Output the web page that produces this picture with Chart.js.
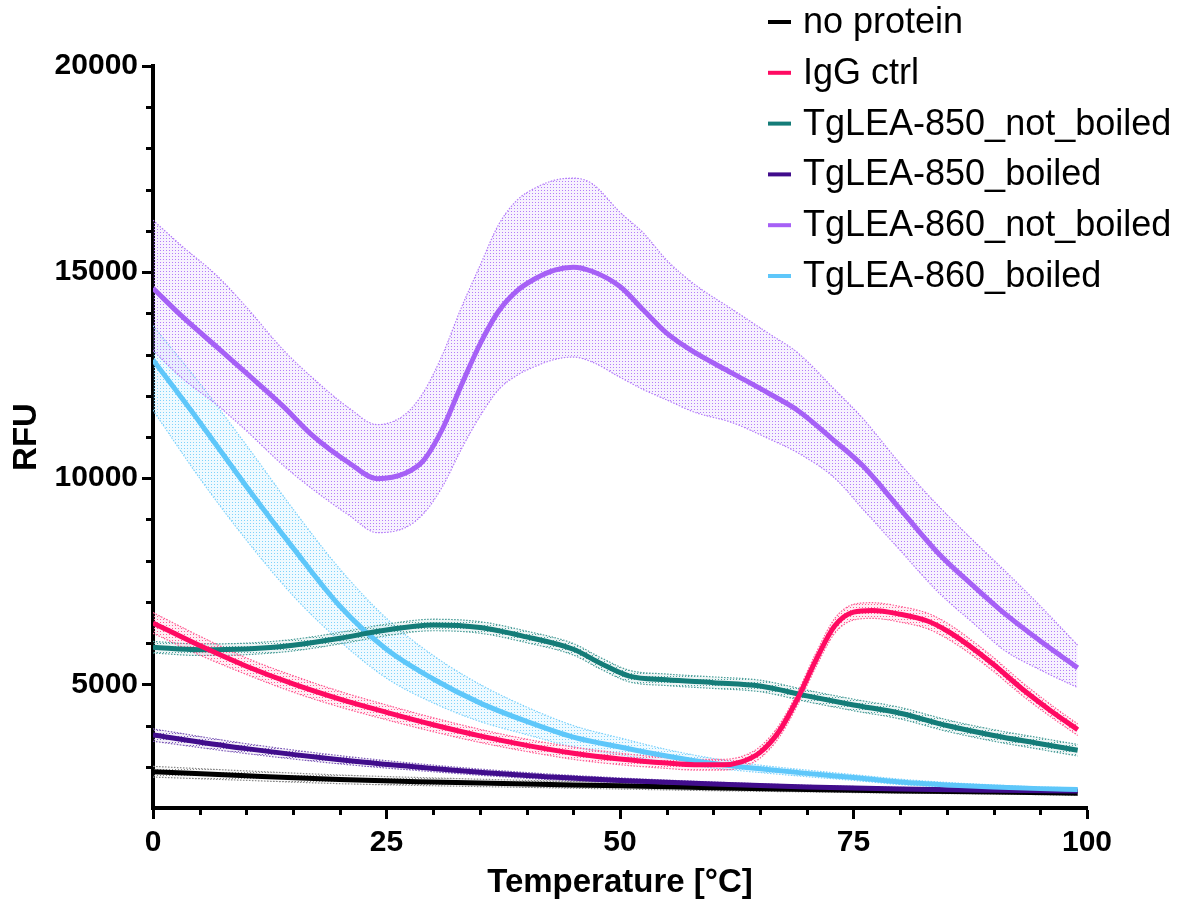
<!DOCTYPE html>
<html><head><meta charset="utf-8">
<script src="https://cdn.jsdelivr.net/npm/chart.js@4/dist/chart.umd.min.js"></script>
<style>html,body{margin:0;padding:0;background:#fff;}#wrap{width:1187px;height:911px;position:relative;}</style>
</head><body><div id="wrap"><canvas id="c" width="1187" height="911"></canvas></div>
<script>
// ---- data ----
const xTicks = [0, 25, 50, 75, 100];
const yTicks = [5000, 10000, 15000, 20000];

const tempNoProtein = [0,10,20,30,40,50,60,70,80,90,99];
const noProtein   = [2880,2780,2690,2630,2580,2540,2490,2450,2410,2390,2360];
const noProteinHi = [3010,2900,2800,2730,2670,2620,2570,2520,2480,2450,2420];
const noProteinLo = [2750,2670,2590,2540,2500,2460,2420,2390,2360,2340,2310];

const tempIgG = [0,5,10,15,20,25,30,35,40,45,50,55,58,61,63,65,67,69,71,73,75,77,80,83,85,87,90,93,96,99];
const igg   = [6490,5940,5440,5010,4640,4320,4020,3750,3520,3330,3190,3090,3050,3050,3120,3350,3850,4650,5600,6420,6750,6790,6700,6530,6300,6000,5480,4900,4380,3900];
const iggHi = [6740,6170,5640,5210,4830,4500,4190,3910,3670,3480,3330,3220,3180,3180,3250,3490,4000,4810,5770,6600,6940,6980,6890,6720,6490,6180,5650,5060,4530,4040];
const iggLo = [6240,5710,5240,4810,4450,4140,3850,3590,3370,3180,3050,2960,2920,2920,2990,3210,3700,4490,5430,6240,6560,6600,6510,6340,6110,5820,5310,4740,4230,3760];

const temp850nb = [0,5,10,15,20,25,30,35,40,45,48,51,55,60,65,70,75,80,85,90,95,99];
const lea850nb   = [5900,5840,5860,5950,6120,6320,6440,6380,6150,5850,5500,5200,5110,5040,4960,4720,4500,4300,4000,3760,3560,3400];
const lea850nbHi = [6040,5980,6000,6090,6260,6460,6580,6520,6290,5990,5640,5340,5250,5180,5100,4860,4640,4440,4140,3900,3700,3540];
const lea850nbLo = [5760,5700,5720,5810,5980,6180,6300,6240,6010,5710,5360,5060,4970,4900,4820,4580,4360,4160,3860,3620,3420,3260];

const temp850b = [0,10,20,30,40,50,60,70,80,90,99];
const lea850b   = [3770,3440,3170,2960,2790,2670,2580,2510,2460,2430,2410];
const lea850bHi = [3920,3560,3270,3040,2860,2730,2630,2550,2500,2460,2440];
const lea850bLo = [3620,3320,3070,2880,2720,2610,2530,2470,2420,2400,2380];

const temp860nb = [0,3,7,10,14,17,21,24,27,29,31,33,35,37,39,41,43,45,47,50,52.5,55,58,62,66,69,73,76,80,84,88,91,95,99];
const lea860nb   = [14610,13950,13150,12550,11730,11050,10370,9990,10120,10440,11200,12250,13250,14050,14550,14850,15050,15120,15020,14650,14080,13520,13050,12550,12050,11650,10900,10300,9250,8200,7350,6750,6050,5400];
const lea860nbHi = [16260,15650,14880,14150,13100,12450,11700,11300,11550,12100,13000,14130,15150,16150,16750,17050,17230,17280,17150,16450,15950,15290,14700,14100,13500,13050,12150,11450,10350,9350,8450,7800,6900,5950];
const lea860nbLo = [13100,12450,11750,11150,10300,9750,9100,8680,8800,9150,9800,10700,11500,12150,12500,12720,12880,12940,12820,12450,12150,11900,11600,11350,10950,10620,10000,9250,8250,7250,6450,5850,5350,4920];

const temp860b = [0,5,10,15,20,25,30,35,40,45,50,55,60,65,70,75,80,85,90,95,99];
const lea860b   = [12870,11360,9800,8310,6900,5850,5130,4550,4100,3720,3480,3260,3080,2950,2840,2740,2630,2560,2510,2470,2450];
const lea860bHi = [13700,12300,10800,9250,7800,6600,5700,5000,4450,4000,3700,3420,3200,3040,2920,2810,2700,2620,2560,2510,2490];
const lea860bLo = [11650,10000,8500,7150,6050,5150,4550,4100,3780,3480,3290,3110,2970,2860,2760,2670,2570,2510,2460,2430,2410];

const seriesLabels = ['no protein','IgG ctrl','TgLEA-850_not_boiled','TgLEA-850_boiled','TgLEA-860_not_boiled','TgLEA-860_boiled'];

// ---- styling ----
const series = [
  {label: seriesLabels[0], color:'#000000', dot:'#8a8a8a', tint:'rgba(140,140,140,0.06)', x:tempNoProtein, y:noProtein, hi:noProteinHi, lo:noProteinLo, z:5},
  {label: seriesLabels[1], color:'#FF0A62', dot:'#FF5C93', tint:'rgba(255,92,147,0.10)', x:tempIgG, y:igg, hi:iggHi, lo:iggLo, z:0},
  {label: seriesLabels[2], color:'#147C78', dot:'#4E9F9B', tint:'rgba(78,159,155,0.10)', x:temp850nb, y:lea850nb, hi:lea850nbHi, lo:lea850nbLo, z:1},
  {label: seriesLabels[3], color:'#410D8C', dot:'#7E5CB8', tint:'rgba(126,92,184,0.10)', x:temp850b, y:lea850b, hi:lea850bHi, lo:lea850bLo, z:4},
  {label: seriesLabels[4], color:'#A660F6', dot:'#B47CF9', tint:'rgba(180,124,249,0.10)', x:temp860nb, y:lea860nb, hi:lea860nbHi, lo:lea860nbLo, z:3},
  {label: seriesLabels[5], color:'#5EC7FA', dot:'#7FD2FB', tint:'rgba(127,210,251,0.12)', x:temp860b, y:lea860b, hi:lea860bHi, lo:lea860bLo, z:2}
];

function dotPattern(color, tint){
  const c = document.createElement('canvas'); c.width = 3; c.height = 3;
  const g = c.getContext('2d');
  g.fillStyle = tint; g.fillRect(0,0,3,3);
  g.fillStyle = color; g.fillRect(1,1,1,1);
  return document.getElementById('c').getContext('2d').createPattern(c,'repeat');
}
function pts(xs, ys){ return xs.map((x,i)=>({x:x, y:ys[i]})); }

const datasets = [];
series.forEach(s=>{
  datasets.push({label:s.label+' upper', data:pts(s.x,s.hi), borderColor:s.dot, borderWidth:1.2, borderDash:[1.5,1.5], pointRadius:0, fill:false, order:20, cubicInterpolationMode:'monotone'});
  datasets.push({label:s.label+' lower', data:pts(s.x,s.lo), borderColor:s.dot, borderWidth:1.2, borderDash:[1.5,1.5], pointRadius:0, fill:'-1', backgroundColor:dotPattern(s.dot, s.tint), order:20, cubicInterpolationMode:'monotone'});
});
series.forEach(s=>{
  datasets.push({label:s.label, isMain:true, data:pts(s.x,s.y), borderColor:s.color, borderWidth:5, pointRadius:0, fill:false, order:s.z, cubicInterpolationMode:'monotone', borderCapStyle:'butt'});
});

const minorTicks = {
  id:'minorTicks',
  afterDraw(chart){
    const ctx = chart.ctx, xs = chart.scales.x, ys = chart.scales.y, a = chart.chartArea;
    ctx.save(); ctx.strokeStyle='#000'; ctx.lineWidth=3;
    for(let v=3000; v<20000; v+=1000){ if(v%5000===0) continue;
      const p = Math.round(ys.getPixelForValue(v))+0.5;
      ctx.beginPath(); ctx.moveTo(a.left-7,p); ctx.lineTo(a.left,p); ctx.stroke(); }
    for(let v=5; v<100; v+=5){ if(v%25===0) continue;
      const p = Math.round(xs.getPixelForValue(v))+0.5;
      ctx.beginPath(); ctx.moveTo(p,a.bottom); ctx.lineTo(p,a.bottom+7); ctx.stroke(); }
    ctx.restore();
  }
};
const sideLegend = {
  id:'sideLegend',
  afterDraw(chart){
    const ctx = chart.ctx; ctx.save();
    ctx.font = '36px "Liberation Sans", Arial, sans-serif';
    ctx.textBaseline = 'middle'; ctx.textAlign='left';
    const mains = chart.data.datasets.filter(d=>d.isMain);
    mains.forEach((d,i)=>{
      const y = 22 + i*50.8;
      ctx.strokeStyle = d.borderColor; ctx.lineWidth = 4;
      ctx.beginPath(); ctx.moveTo(768,y); ctx.lineTo(791,y); ctx.stroke();
      ctx.fillStyle = '#000'; ctx.fillText(d.label, 803, y+1);
    });
    ctx.restore();
  }
};

new Chart(document.getElementById('c'), {
  type:'line',
  data:{datasets:datasets},
  plugins:[minorTicks, sideLegend],
  options:{
    responsive:false, animation:false,
    layout:{padding:{top:66,right:100,left:0,bottom:0}},
    plugins:{legend:{display:false}, tooltip:{enabled:false}},
    scales:{
      x:{type:'linear', min:0, max:100,
        afterBuildTicks(s){ s.ticks = xTicks.map(v=>({value:v})); },
        afterFit(s){ s.height = 911-808; },
        grid:{drawOnChartArea:false, drawTicks:true, tickLength:11, tickWidth:3, tickColor:'#000'},
        border:{display:true, color:'#000', width:4},
        ticks:{color:'#000', padding:6, maxRotation:0, font:{family:'"Liberation Sans", Arial, sans-serif', size:30, weight:'bold'}, callback:v=>String(v)},
        title:{display:true, text:'Temperature [°C]', color:'#000', padding:{top:0,bottom:8}, font:{family:'"Liberation Sans", Arial, sans-serif', size:33, weight:'bold'}}
      },
      y:{type:'linear', min:2000, max:20000,
        afterBuildTicks(s){ s.ticks = yTicks.map(v=>({value:v})); },
        afterFit(s){ s.width = 153; },
        grid:{drawOnChartArea:false, drawTicks:true, tickLength:11, tickWidth:3, tickColor:'#000'},
        border:{display:true, color:'#000', width:4},
        ticks:{color:'#000', padding:4, font:{family:'"Liberation Sans", Arial, sans-serif', size:30, weight:'bold'}, callback:v=>String(v)},
        title:{display:true, text:'RFU', color:'#000', padding:{top:7,bottom:0}, font:{family:'"Liberation Sans", Arial, sans-serif', size:33, weight:'bold'}}
      }
    }
  }
});
</script></body></html>
